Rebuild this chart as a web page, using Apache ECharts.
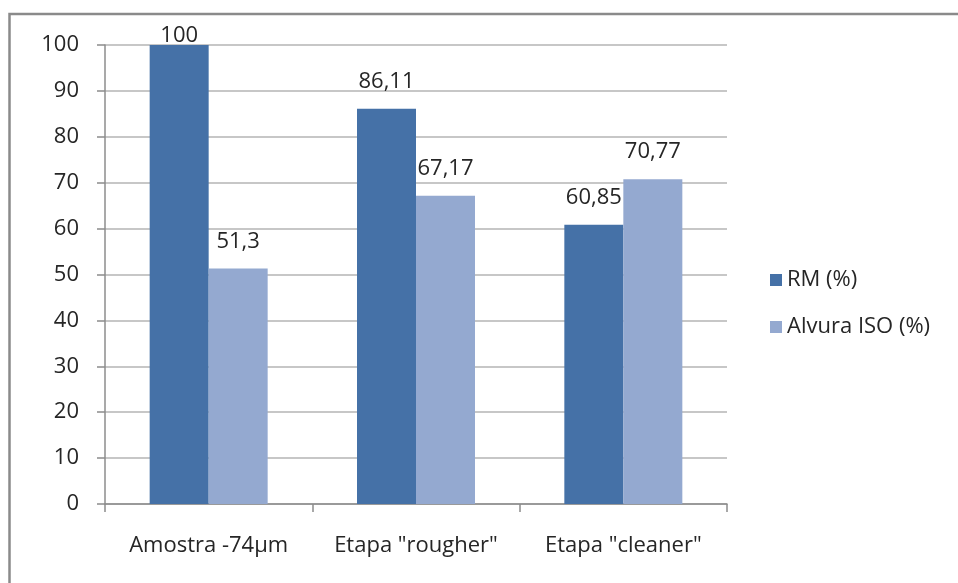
<!DOCTYPE html>
<html>
<head>
<meta charset="utf-8">
<style>
  html, body { margin: 0; padding: 0; background: #fff; }
  #chart { width: 958px; height: 583px; }
</style>
<script src="https://cdn.jsdelivr.net/npm/echarts@6/dist/echarts.min.js"></script>
</head>
<body>
<div id="chart"></div>
<script>
// Categories and series values
const categories = ['Amostra -74µm', 'Etapa "rougher"', 'Etapa "cleaner"'];
const rmValues = [100, 86.11, 60.85];
const alvuraValues = [51.3, 67.17, 70.77];
const seriesNames = ['RM (%)', 'Alvura ISO (%)'];

const FONT = '"Open Sans", "Liberation Sans", sans-serif';
const TEXT = '#262626';
const AXIS_MAX = 100;
const fmt = p => String(p.value).replace('.', ',');

// Value labels sit above each bar; a label on a bar that reaches the
// top of the axis is tucked down so it stays inside the plot.
const labelStyle = { show: true, position: 'top', distance: 16, fontFamily: FONT, fontSize: 22, color: TEXT, formatter: fmt };
const toItems = arr => arr.map(v => v >= AXIS_MAX
  ? { value: v, label: { distance: -2 } }
  : { value: v });

const chart = echarts.init(document.getElementById('chart'));
chart.setOption({
  animation: false,
  backgroundColor: '#ffffff',
  textStyle: { fontFamily: FONT },
  graphic: [{
    type: 'rect',
    shape: { x: 9.5, y: 14, width: 1000, height: 700 },
    style: { fill: 'none', stroke: '#8a8a8a', lineWidth: 2.5 },
    silent: true
  }],
  grid: { left: 105, right: 231, top: 45, bottom: 79, containLabel: false },
  legend: {
    orient: 'vertical',
    left: 770,
    top: 269,
    padding: 0,
    itemWidth: 12,
    itemHeight: 12,
    itemGap: 25,
    icon: 'rect',
    textStyle: { fontFamily: FONT, fontSize: 22, color: TEXT },
    data: seriesNames
  },
  xAxis: {
    type: 'category',
    data: categories,
    axisLine: { lineStyle: { color: '#8c8c8c', width: 1.5 } },
    axisTick: { show: true, length: 8, lineStyle: { color: '#8c8c8c', width: 1.5 } },
    axisLabel: { interval: 0, hideOverlap: false, fontFamily: FONT, fontSize: 22, color: TEXT, margin: 31 }
  },
  yAxis: {
    type: 'value',
    min: 0,
    max: AXIS_MAX,
    interval: 10,
    axisLine: { show: true, lineStyle: { color: '#8c8c8c', width: 1.5 } },
    axisTick: { show: true, length: 8, lineStyle: { color: '#8c8c8c', width: 1.5 } },
    axisLabel: { fontFamily: FONT, fontSize: 22, color: TEXT, margin: 26 },
    splitLine: { lineStyle: { color: '#b4b4b4', width: 1.5 } }
  },
  series: [
    {
      name: seriesNames[0],
      type: 'bar',
      data: toItems(rmValues),
      barWidth: 59,
      barGap: '0%',
      itemStyle: { color: '#4571a7' },
      label: labelStyle
    },
    {
      name: seriesNames[1],
      type: 'bar',
      data: toItems(alvuraValues),
      barWidth: 59,
      barGap: '0%',
      itemStyle: { color: '#94a9d0' },
      label: labelStyle
    }
  ]
});
</script>
</body>
</html>
